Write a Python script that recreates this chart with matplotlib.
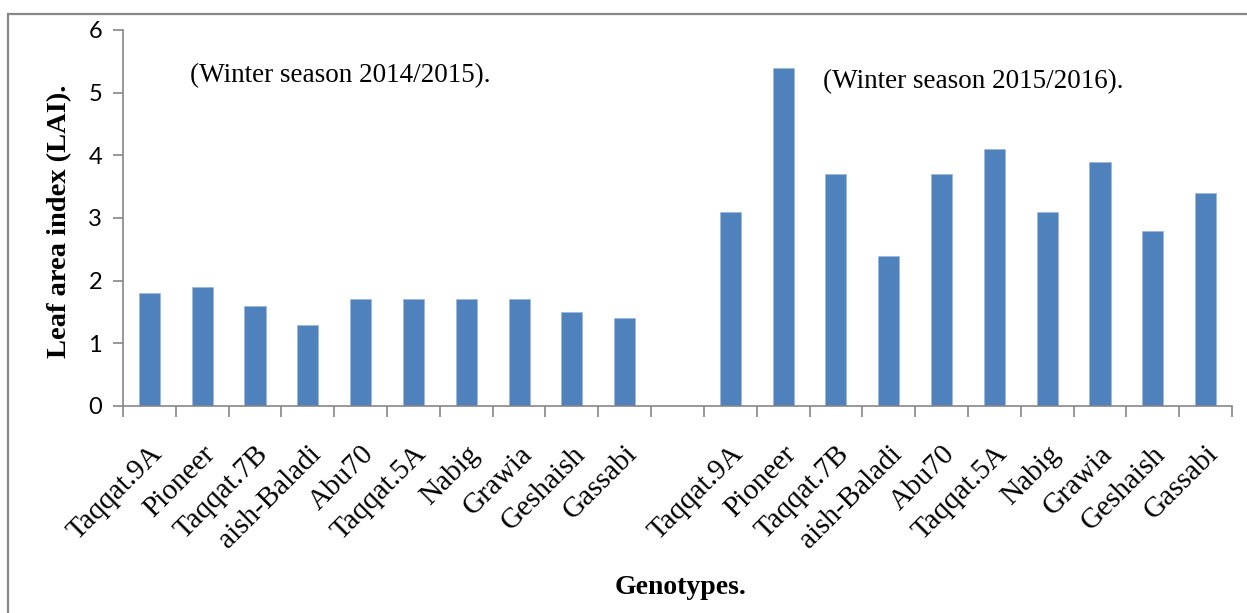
import matplotlib
matplotlib.use("Agg")
import matplotlib.pyplot as plt
from matplotlib.patches import Rectangle
from matplotlib.transforms import offset_copy
import numpy as np

genotypes = ["Taqqat.9A", "Pioneer", "Taqqat.7B", "aish-Baladi", "Abu70",
             "Taqqat.5A", "Nabig", "Grawia", "Geshaish", "Gassabi"]
lai_2014 = [1.8, 1.9, 1.6, 1.3, 1.7, 1.7, 1.7, 1.7, 1.5, 1.4]
lai_2015 = [3.1, 5.4, 3.7, 2.4, 3.7, 4.1, 3.1, 3.9, 2.8, 3.4]
season_labels = ["(Winter season 2014/2015).", "(Winter season 2015/2016)."]
y_ticks = [0, 1, 2, 3, 4, 5, 6]

W, H = 1247, 613
fig = plt.figure(figsize=(W / 100, H / 100), dpi=100)
ax = fig.add_axes([123 / W, (H - 406) / H, (1232 - 123) / W, (406 - 30) / H])

# two seasons side by side, separated by one empty slot
n = len(genotypes)
x_2014 = np.arange(n)
x_2015 = np.arange(n) + n + 1
bar_color = "#4F81BD"
ax.bar(x_2014, lai_2014, width=0.4, color=bar_color, edgecolor="#9DB9DC", linewidth=0.6, zorder=2)
ax.bar(x_2015, lai_2015, width=0.4, color=bar_color, edgecolor="#9DB9DC", linewidth=0.6, zorder=2)

total = 2 * n + 1
ax.set_xlim(-0.5, total - 0.5)
ax.set_ylim(0, 6)

axis_gray = "#868686"
for s in ["top", "right"]:
    ax.spines[s].set_visible(False)
for s in ["left", "bottom"]:
    ax.spines[s].set_color(axis_gray)
    ax.spines[s].set_linewidth(1.2)

ax.set_yticks(y_ticks)
ax.set_yticklabels([str(v) for v in y_ticks], fontfamily="Lato", fontsize=17)
ax.tick_params(axis="y", direction="out", length=7, width=1.2, color=axis_gray, pad=8)

# tick marks at the slot boundaries, labels centred under each bar
ax.set_xticks(np.arange(total + 1) - 0.5)
ax.set_xticklabels([])
ax.tick_params(axis="x", direction="out", length=8, width=1.2, color=axis_gray)

label_tf = offset_copy(ax.get_xaxis_transform(), fig=fig, x=9, y=-44, units="dots")
for xs in (x_2014, x_2015):
    for xi, name in zip(xs, genotypes):
        ax.text(xi, 0, name, transform=label_tf, rotation=45, rotation_mode="anchor",
                ha="right", va="center", fontfamily="Liberation Serif", fontsize=21)

ax.text(0.77, 5.28, season_labels[0], fontfamily="Liberation Serif", fontsize=19.5, va="center")
ax.text(12.76, 5.18, season_labels[1], fontfamily="Liberation Serif", fontsize=19.5, va="center")

fig.text(60 / W, 1 - 221 / H, "Leaf area index (LAI).", rotation=90, ha="center", va="center",
         fontfamily="Liberation Serif", fontweight="bold", fontsize=20.5)
fig.text(681 / W, 1 - 588 / H, "Genotypes.", ha="center", va="center",
         fontfamily="Liberation Serif", fontweight="bold", fontsize=20)

# chart frame
fig.patches.append(Rectangle((8 / W, -0.1), 1.2, 1 - 14 / H + 0.1, transform=fig.transFigure,
                             fill=False, edgecolor="#888888", linewidth=1.6))

fig.savefig("out.png", dpi=100)
